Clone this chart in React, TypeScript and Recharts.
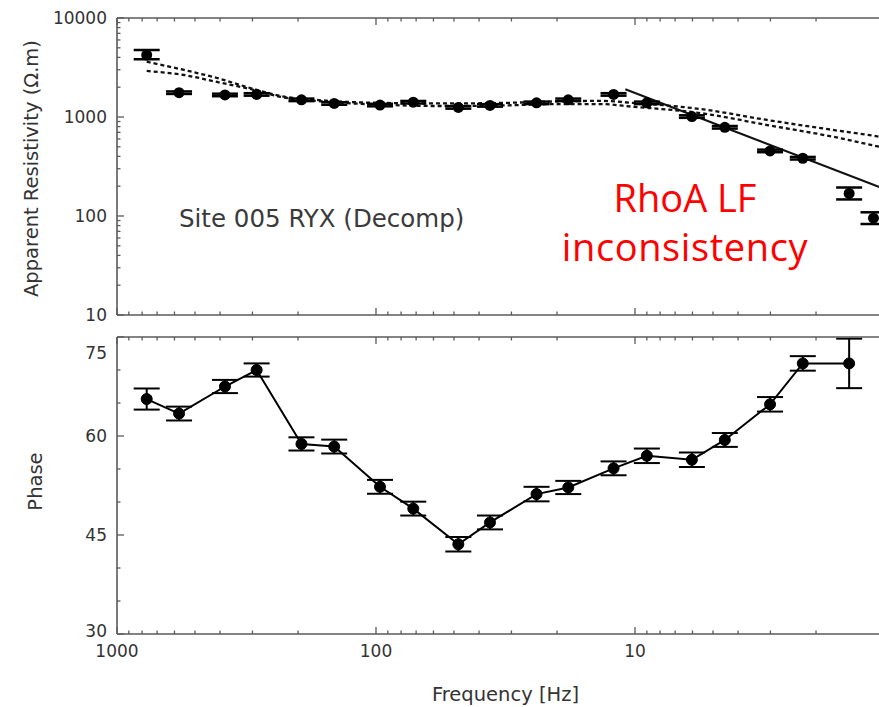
import React from 'react';
import { ComposedChart, Line, Scatter, XAxis, YAxis, ErrorBar } from 'recharts';

// ---------- data ----------
const rhoFreq = [768, 576, 383, 289, 194, 145, 96.5, 71.8, 48.1, 36.3, 24.0, 18.1, 12.1, 9.0, 6.03, 4.5, 3.01, 2.25, 1.49, 1.2];
const rhoValue = [4230, 1760, 1670, 1690, 1490, 1370, 1320, 1410, 1250, 1310, 1390, 1490, 1690, 1390, 1010, 787, 454, 383, 169, 95];
const rhoErrLow = [400, 50, 48, 48, 43, 40, 38, 41, 36, 38, 40, 43, 48, 40, 29, 23, 13, 11, 22, 12];
const rhoErrHigh = [520, 52, 50, 50, 45, 41, 40, 42, 37, 39, 41, 45, 50, 41, 30, 24, 14, 12, 25, 14];

const phaseFreq = [768, 576, 383, 289, 194, 145, 96.5, 71.8, 48.1, 36.3, 24.0, 18.1, 12.1, 9.0, 6.03, 4.5, 3.01, 2.25, 1.49];
const phaseValue = [65.6, 63.4, 67.5, 70.0, 58.8, 58.4, 52.3, 49.0, 43.6, 46.9, 51.2, 52.2, 55.1, 57.0, 56.4, 59.4, 64.8, 71.0, 71.0];
const phaseErr = [1.6, 1.05, 1.0, 1.0, 1.0, 1.05, 1.05, 1.05, 1.1, 1.05, 1.1, 1.0, 1.05, 1.1, 1.1, 1.05, 1.1, 1.1, 3.75];

const modelAFreq = [768, 551, 411, 306, 226, 169, 99, 56.6, 33.2, 19.5, 13.65, 10.2, 5.61, 3.09, 1.72, 1.14, 1.0];
const modelAValue = [3620, 2985, 2477, 1963, 1604, 1486, 1390, 1370, 1385, 1440, 1455, 1390, 1205, 933, 740, 632, 595];
const modelBFreq = [768, 551, 411, 306, 226, 169, 99, 56.6, 33.2, 19.5, 13.65, 10.2, 5.61, 3.09, 1.72, 1.14, 1.0];
const modelBValue = [2917, 2656, 2258, 1918, 1574, 1450, 1337, 1291, 1306, 1352, 1352, 1271, 1096, 830, 632, 501, 465];

const trendFreq = [10.9, 1.0];
const trendValue = [1905, 172];

const freqTicks = [1, 2, 3, 4, 5, 6, 7, 8, 9, 10, 20, 30, 40, 50, 60, 70, 80, 90, 100, 200, 300, 400, 500, 600, 700, 800, 900, 1000];
const freqMajor = [1, 10, 100, 1000];
const freqLabels = [10, 100, 1000];
const rhoTicks = [10, 20, 30, 40, 50, 60, 70, 80, 90, 100, 200, 300, 400, 500, 600, 700, 800, 900, 1000, 2000, 3000, 4000, 5000, 6000, 7000, 8000, 9000, 10000];
const rhoLabels = [10, 100, 1000, 10000];
const phaseTicks = [30, 35, 40, 45, 50, 55, 60, 65, 70, 75];
const phaseLabels = [30, 45, 60, 75];

const rhoData = rhoFreq.map((f, i) => ({ f, v: rhoValue[i], err: [rhoErrLow[i], rhoErrHigh[i]] }));
const phaseData = phaseFreq.map((f, i) => ({ f, v: phaseValue[i], err: phaseErr[i] }));
const modelAData = modelAFreq.map((f, i) => ({ f, v: modelAValue[i] }));
const modelBData = modelBFreq.map((f, i) => ({ f, v: modelBValue[i] }));
const trendData = trendFreq.map((f, i) => ({ f, v: trendValue[i] }));

// ---------- styles ----------
const AXIS = '#5a5a5a';
const TXT = '#333';
const FONT = '"DejaVu Sans", sans-serif';

function XTick(props: any) {
  const { x, y, payload, side, showLabels } = props;
  const v = Number(payload.value);
  const major = freqMajor.includes(v);
  const len = major ? 7 : 3.5;
  const dir = side === 'top' ? 1 : -1;
  return (
    <g>
      <line x1={x} x2={x} y1={y} y2={y + dir * len} stroke={AXIS} strokeWidth={1.3} />
      {showLabels && freqLabels.includes(v) ? (
        <text x={x} y={y + 17} dy="0.36em" textAnchor="middle" fill={TXT} fontSize={17} fontFamily={FONT}>
          {v}
        </text>
      ) : null}
    </g>
  );
}

function YTick(props: any) {
  const { x, y, payload, labels, shiftValue, bottomValue } = props;
  const v = Number(payload.value);
  const major = labels.includes(v);
  const len = major ? 7 : 3.5;
  let dy = 0;
  if (shiftValue !== undefined && v === shiftValue) dy = 16;
  if (bottomValue !== undefined && v === bottomValue) dy = -3;
  return (
    <g>
      <line x1={x} x2={x + len} y1={y} y2={y} stroke={AXIS} strokeWidth={1.3} />
      {major ? (
        <text x={x - 10} y={y + dy} dy="0.36em" textAnchor="end" fill={TXT} fontSize={17} fontFamily={FONT}>
          {v}
        </text>
      ) : null}
    </g>
  );
}

function YTitle(props: any) {
  const { viewBox, text, dx = 0, dyc = 0 } = props;
  const cx = viewBox.x + dx;
  const cy = viewBox.y + viewBox.height / 2 + dyc;
  return (
    <text x={cx} y={cy} dy="0.36em" transform={`rotate(-90 ${cx} ${cy})`} textAnchor="middle" fill={TXT} fontSize={19.5} fontFamily={FONT}>
      {text}
    </text>
  );
}

function XTitle(props: any) {
  const { viewBox } = props;
  return (
    <text x={viewBox.x + viewBox.width / 2} y={viewBox.y + 67} textAnchor="middle" fill={TXT} fontSize={19.5} fontFamily={FONT}>
      Frequency [Hz]
    </text>
  );
}

const renderDot = (p: any) => <circle cx={p.cx} cy={p.cy} r={5.5} fill="#000" />;

const axisLineStyle = { stroke: AXIS, strokeWidth: 1.6 };

export default function App() {
  return (
    <div style={{ position: 'absolute', left: 0, top: 0, width: 879, height: 707, overflow: 'hidden', background: '#fff' }}>
      <div style={{ position: 'absolute', left: 0, top: 0 }}>
        <ComposedChart width={1000} height={330} margin={{ top: 0, right: 106, bottom: 0, left: 57 }}>
          <XAxis
            dataKey="f" type="number" scale="log" domain={[1, 1000]} reversed allowDataOverflow
            ticks={freqTicks} interval={0} tickSize={0} tickMargin={0} tickLine={false} height={15}
            axisLine={axisLineStyle} tick={<XTick side="bottom" showLabels={false} />}
          />
          <XAxis
            xAxisId="top" orientation="top" dataKey="f" type="number" scale="log" domain={[1, 1000]} reversed allowDataOverflow
            ticks={freqTicks} interval={0} tickSize={0} tickMargin={0} tickLine={false} height={18}
            axisLine={axisLineStyle} tick={<XTick side="top" showLabels={false} />}
          />
          <YAxis
            dataKey="v" type="number" scale="log" domain={[10, 10000]} allowDataOverflow width={60}
            ticks={rhoTicks} interval={0} tickSize={0} tickMargin={0} tickLine={false}
            axisLine={axisLineStyle} tick={<YTick labels={rhoLabels} />}
            label={<YTitle text="Apparent Resistivity (Ω.m)" dx={-26} dyc={2} />}
          />
          <Line data={modelAData} dataKey="v" type="monotone" stroke="#111" strokeWidth={2.3} strokeDasharray="4 3" dot={false} activeDot={false} isAnimationActive={false} />
          <Line data={modelBData} dataKey="v" type="monotone" stroke="#111" strokeWidth={2.3} strokeDasharray="4 3" dot={false} activeDot={false} isAnimationActive={false} />
          <Line data={trendData} dataKey="v" type="linear" stroke="#111" strokeWidth={2} dot={false} activeDot={false} isAnimationActive={false} />
          <Scatter data={rhoData} dataKey="v" shape={renderDot} isAnimationActive={false}>
            <ErrorBar dataKey="err" direction="y" width={13} stroke="#000" strokeWidth={2.5} isAnimationActive={false} />
          </Scatter>
        </ComposedChart>
      </div>
      <div style={{ position: 'absolute', left: 0, top: 320 }}>
        <ComposedChart width={1000} height={387} margin={{ top: 0, right: 106, bottom: 0, left: 57 }}>
          <XAxis
            dataKey="f" type="number" scale="log" domain={[1, 1000]} reversed allowDataOverflow
            ticks={freqTicks} interval={0} tickSize={0} tickMargin={0} tickLine={false} height={73}
            axisLine={axisLineStyle} tick={<XTick side="bottom" showLabels={true} />}
            label={<XTitle />}
          />
          <XAxis
            xAxisId="top" orientation="top" dataKey="f" type="number" scale="log" domain={[1, 1000]} reversed allowDataOverflow
            ticks={freqTicks} interval={0} tickSize={0} tickMargin={0} tickLine={false} height={17}
            axisLine={axisLineStyle} tick={<XTick side="top" showLabels={false} />}
          />
          <YAxis
            dataKey="v" type="number" domain={[30, 75]} allowDataOverflow width={60}
            ticks={phaseTicks} interval={0} tickSize={0} tickMargin={0} tickLine={false}
            axisLine={axisLineStyle} tick={<YTick labels={phaseLabels} shiftValue={75} bottomValue={30} />}
            label={<YTitle text="Phase" dx={-22} dyc={-4} />}
          />
          <Line data={phaseData} dataKey="v" type="linear" stroke="#000" strokeWidth={2}
            dot={{ r: 5.5, fill: '#000', stroke: '#000', strokeWidth: 1 }} activeDot={false} isAnimationActive={false}>
            <ErrorBar dataKey="err" direction="y" width={13} stroke="#000" strokeWidth={2} isAnimationActive={false} />
          </Line>
        </ComposedChart>
      </div>
      <svg width={879} height={707} style={{ position: 'absolute', left: 0, top: 0, pointerEvents: 'none' }}>
        <text x={179} y={227} fill="#3a3a3a" fontSize={24.5} fontFamily={FONT}>Site 005 RYX (Decomp)</text>
        <text x={685} y={212} textAnchor="middle" fill="#ff0000" fontSize={38} fontFamily='"Open Sans", sans-serif'>RhoA LF</text>
        <text x={685} y={261} textAnchor="middle" fill="#ff0000" fontSize={38} letterSpacing={0.6} fontFamily='"Open Sans", sans-serif'>inconsistency</text>
      </svg>
    </div>
  );
}
